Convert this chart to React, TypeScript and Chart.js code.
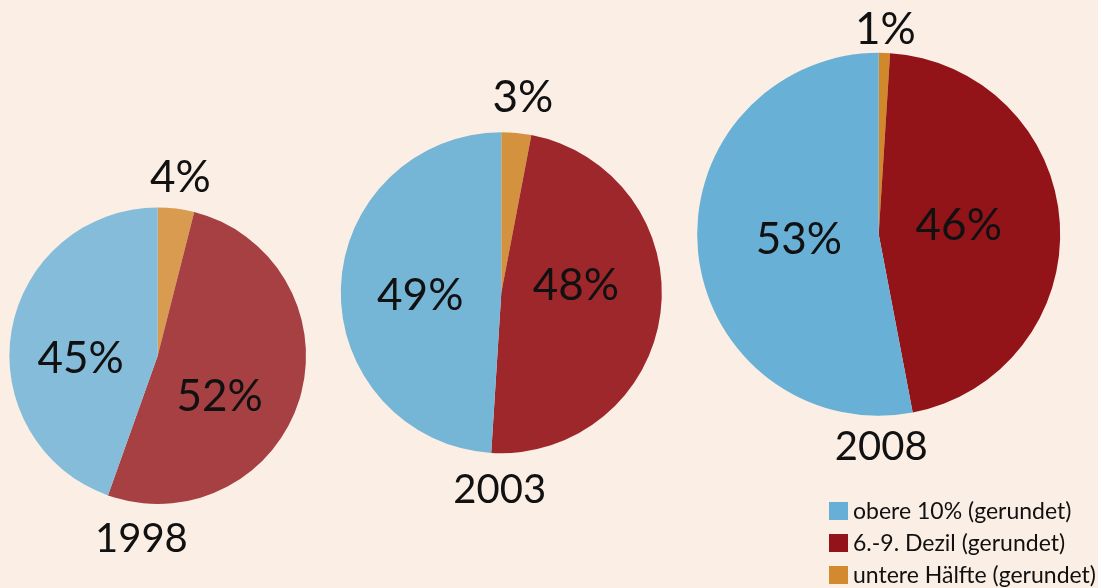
import React, { useEffect, useRef } from "react";
import { Chart, registerables } from "chart.js";

Chart.register(...registerables);

// ---- data ----
const years = ["1998", "2003", "2008"];
const categories = ["untere Hälfte (gerundet)", "6.-9. Dezil (gerundet)", "obere 10% (gerundet)"];
const untereHaelfte = [4, 3, 1];
const dezil6bis9 = [52, 48, 46];
const obere10 = [45, 49, 53];

// ---- styles / layout ----
const W = 1098;
const H = 588;
const BG = "#FAEEE5";
const FONT = '"Lato", "Open Sans", sans-serif';

const palettes = [
  ["#D99B50", "#A64042", "#85BCD9"],
  ["#D4923E", "#9E272C", "#75B5D5"],
  ["#D0882A", "#931418", "#68B0D6"],
];
const legendColors = ["#D38A2E", "#93131A", "#67AFD6"];
const legendOrder = [2, 1, 0];

// pie placement: centre and radius in px
const pieBoxes = [
  { cx: 157.7, cy: 355.7, r: 148.3 },
  { cx: 501.3, cy: 292.7, r: 160.5 },
  { cx: 878.7, cy: 234.3, r: 181.5 },
];

// label anchors in units of radius, relative to pie centre: [untere, dezil, obere, year]
const labelAnchors = [
  [[0.153, -1.2], [0.417, 0.275], [-0.519, 0.022], [-0.11, 1.236]],
  [[0.135, -1.213], [0.465, -0.04], [-0.505, 0.021], [-0.01, 1.229]],
  [[0.037, -1.128], [0.441, -0.046], [-0.44, 0.03], [0.014, 1.172]],
];

function PieCanvas({ idx }: { idx: number }) {
  const ref = useRef<HTMLCanvasElement | null>(null);
  useEffect(() => {
    if (!ref.current) return;
    const box = pieBoxes[idx];
    const values = [untereHaelfte[idx], dezil6bis9[idx], obere10[idx]];
    const labelPlugin = {
      id: "pieLabels" + idx,
      afterDatasetsDraw(chart: any) {
        const meta = chart.getDatasetMeta(0);
        const arc = meta.data[0];
        const cx = arc.x;
        const cy = arc.y;
        const r = arc.outerRadius;
        const ctx = chart.ctx;
        ctx.save();
        ctx.fillStyle = "#111";
        ctx.textAlign = "center";
        ctx.textBaseline = "middle";
        const anchors = labelAnchors[idx];
        values.forEach((v, i) => {
          ctx.font = `44px ${FONT}`;
          ctx.fillText(v + "%", cx + anchors[i][0] * r, cy + anchors[i][1] * r);
        });
        ctx.font = `40px ${FONT}`;
        ctx.fillText(years[idx], cx + anchors[3][0] * r, cy + anchors[3][1] * r);

        if (idx === 2) {
          // legend
          ctx.textAlign = "left";
          ctx.textBaseline = "middle";
          ctx.font = `23px ${FONT}`;
          legendOrder.forEach((k, row) => {
            const y = 511 + row * 32;
            ctx.fillStyle = legendColors[k];
            ctx.fillRect(829, y - 9, 19, 18);
            ctx.fillStyle = "#111";
            ctx.fillText(categories[k], 853, y + 1);
          });
        }
        ctx.restore();
      },
    };
    const chart = new Chart(ref.current, {
      type: "pie",
      data: {
        labels: categories,
        datasets: [
          {
            data: values,
            backgroundColor: palettes[idx],
            borderWidth: 0,
          },
        ],
      },
      options: {
        responsive: false,
        animation: false,
        layout: {
          padding: {
            left: box.cx - box.r,
            right: W - (box.cx + box.r),
            top: box.cy - box.r,
            bottom: H - (box.cy + box.r),
          },
        },
        plugins: {
          legend: { display: false },
          tooltip: { enabled: false },
        },
      },
      plugins: [labelPlugin],
    });
    return () => chart.destroy();
  }, [idx]);
  return (
    <canvas
      ref={ref}
      width={W}
      height={H}
      style={{ position: "absolute", left: 0, top: 0, width: W, height: H }}
    />
  );
}

export default function App() {
  return (
    <div
      style={{
        position: "fixed",
        left: 0,
        top: 0,
        width: W,
        height: H,
        background: BG,
        overflow: "hidden",
      }}
    >
      {[0, 1, 2].map((i) => (
        <PieCanvas key={i} idx={i} />
      ))}
    </div>
  );
}
